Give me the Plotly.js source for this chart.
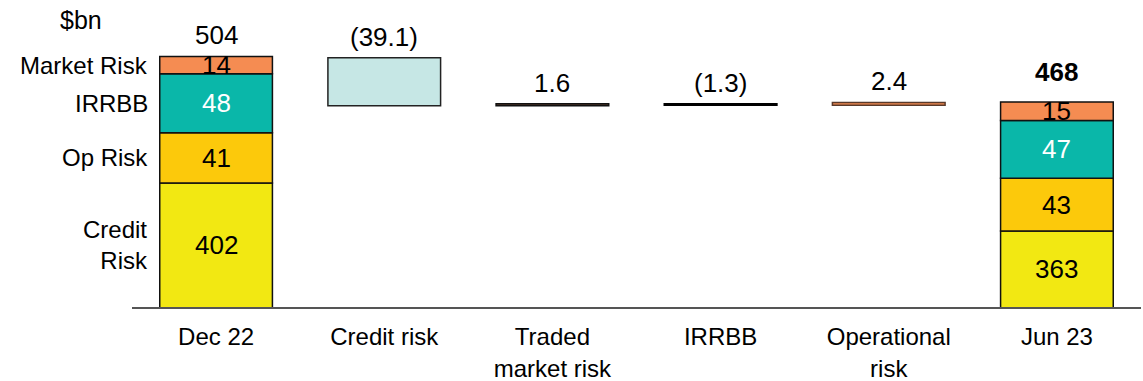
<!DOCTYPE html>
<html>
<head>
<meta charset="utf-8">
<script src="https://cdn.plot.ly/plotly-3.0.1.min.js"></script>
<style>
  html, body { margin: 0; padding: 0; background: #fff; }
  #chart { width: 1143px; height: 381px; }
</style>
</head>
<body>
<div id="chart"></div>
<script>
// ---- data ----
const categories = ['Dec 22', 'Credit risk', 'Traded<br>market risk', 'IRRBB', 'Operational<br>risk', 'Jun 23'];
const segmentNames = ['Credit Risk', 'Op Risk', 'IRRBB', 'Market Risk'];
const segmentLabels = ['Credit<br>Risk', 'Op Risk', 'IRRBB', 'Market Risk'];
const dec22Values = [402, 41, 48, 14];
const jun23Values = [363, 43, 47, 15];
const dec22Total = 504;
const jun23Total = 468;
const deltaCategories = ['Credit risk', 'Traded<br>market risk', 'IRRBB', 'Operational<br>risk'];
const deltaValues = [-39.1, 1.6, -1.3, 2.4];

// ---- style ----
const segColors = ['#F2E812', '#FCC90B', '#0AB7A9', '#F58C52'];
const segTextColors = ['#000', '#000', '#fff', '#000'];
const deltaFill = ['#C6E7E5', '#5a3a2a', '#000000', '#F58C52'];
const deltaLine = ['#222', '#111', '#000', '#5a3a2a'];
const FONT = '"Liberation Sans", Arial, sans-serif';
const FS = 26;      // numbers
const FS_LBL = 24;  // category / segment names
const BW = 0.67;
const Y_MIN = 301.3, Y_MAX = 534.6;

const traces = [];
const annotations = [];

function stackTraces(cat, vals) {
  let base = 0;
  vals.forEach((v, i) => {
    traces.push({
      type: 'bar', x: [cat], y: [v], base: [base], width: [BW],
      marker: { color: segColors[i], line: { color: '#111', width: 1.5 } },
      hoverinfo: 'skip', showlegend: false
    });
    const lo = Math.max(base, Y_MIN), hi = base + v;
    annotations.push({
      x: cat, y: (lo + hi) / 2, xref: 'x', yref: 'y', text: String(v),
      showarrow: false, font: { family: FONT, size: FS, color: segTextColors[i] },
      yanchor: 'middle'
    });
    base += v;
  });
  return base;
}

const decTop = stackTraces(categories[0], dec22Values);
const junTop = stackTraces(categories[5], jun23Values);

// segment names on the left of Dec 22
{
  let base = 0;
  dec22Values.forEach((v, i) => {
    const lo = Math.max(base, Y_MIN), hi = base + v;
    annotations.push({
      x: categories[0], y: (lo + hi) / 2, xref: 'x', yref: 'y',
      text: segmentLabels[i], showarrow: false, align: 'right',
      xanchor: 'right', yanchor: 'middle', xshift: -BW / 2 * 168 - 10,
      font: { family: FONT, size: FS_LBL, color: '#000' }
    });
    base += v;
  });
}

// totals
annotations.push({
  x: categories[0], y: decTop, xref: 'x', yref: 'y', text: String(dec22Total),
  showarrow: false, yanchor: 'bottom', yshift: 4,
  font: { family: FONT, size: FS, color: '#000' }
});
annotations.push({
  x: categories[5], y: junTop, xref: 'x', yref: 'y', text: '<b>' + jun23Total + '</b>',
  showarrow: false, yanchor: 'bottom', yshift: 13,
  font: { family: FONT, size: FS, color: '#000' }
});

// waterfall deltas
let running = dec22Total;
const dBase = [], dHeight = [];
deltaValues.forEach((d, i) => {
  const next = running + d;
  dBase.push(Math.min(running, next));
  dHeight.push(Math.abs(d));
  const fmt = d < 0 ? '(' + Math.abs(d).toFixed(1) + ')' : d.toFixed(1);
  annotations.push({
    x: deltaCategories[i], y: Math.max(running, next), xref: 'x', yref: 'y',
    text: fmt, showarrow: false, yanchor: 'bottom', yshift: 4,
    font: { family: FONT, size: FS, color: '#000' }
  });
  running = next;
});
traces.push({
  type: 'bar', x: deltaCategories, y: dHeight, base: dBase,
  width: deltaCategories.map(() => BW),
  marker: { color: deltaFill, line: { color: deltaLine, width: 1.5 } },
  hoverinfo: 'skip', showlegend: false
});

annotations.push({
  x: -0.0505, y: 1, xref: 'paper', yref: 'paper', text: '$bn',
  showarrow: false, xanchor: 'center', yanchor: 'middle',
  font: { family: FONT, size: 25, color: '#000' }
});

const layout = {
  width: 1143, height: 381,
  margin: { l: 132, r: 2, t: 20, b: 74, pad: 0 },
  paper_bgcolor: '#fff', plot_bgcolor: '#fff',
  barmode: 'overlay',
  showlegend: false,
  font: { family: FONT, size: FS, color: '#000' },
  xaxis: {
    type: 'category', categoryorder: 'array', categoryarray: categories,
    range: [-0.5, 5.5], showgrid: false, zeroline: false,
    showline: true, linecolor: '#555', linewidth: 1.5,
    ticks: '', ticklabelstandoff: 8,
    tickfont: { family: FONT, size: FS_LBL, color: '#000' }
  },
  yaxis: {
    range: [Y_MIN, Y_MAX], showgrid: false, zeroline: false, showline: false,
    showticklabels: false, ticks: ''
  },
  annotations: annotations
};

Plotly.newPlot('chart', traces, layout, { displayModeBar: false, staticPlot: true });
</script>
</body>
</html>
